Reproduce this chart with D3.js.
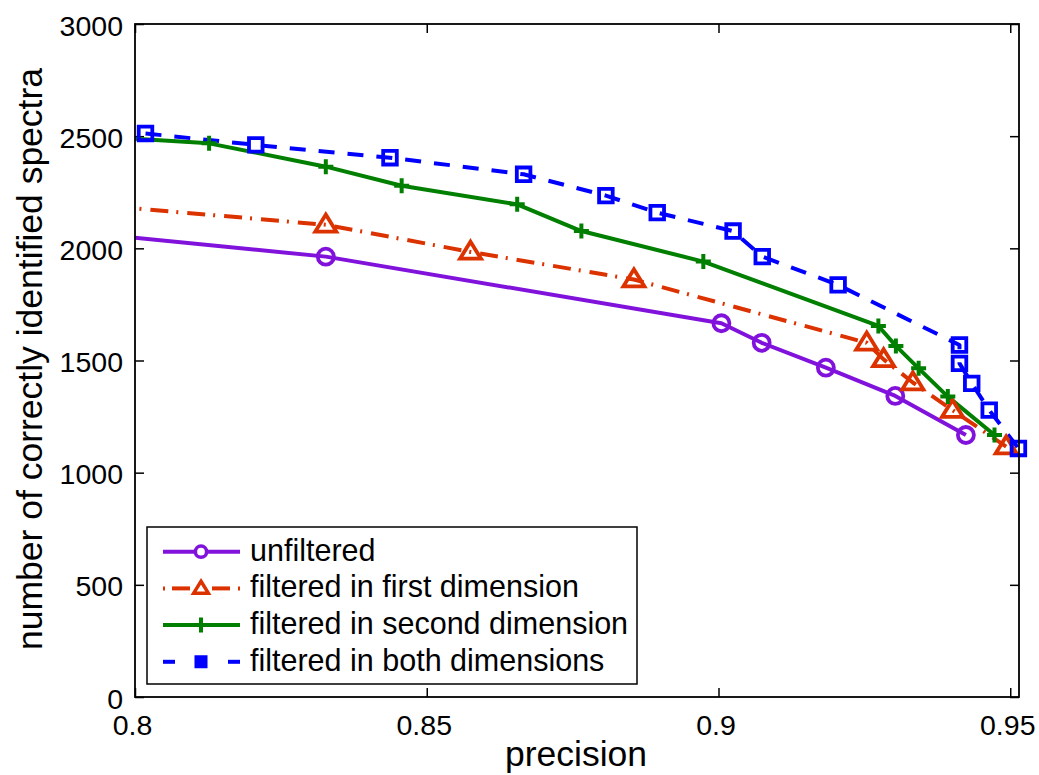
<!DOCTYPE html>
<html>
<head>
<meta charset="utf-8">
<script src="https://cdn.jsdelivr.net/npm/d3@7/dist/d3.min.js"></script>
<style>
  html, body { margin: 0; padding: 0; background: #fff; }
  svg { display: block; font-family: "Liberation Sans", Arial, Helvetica, sans-serif; }
</style>
</head>
<body>
<svg id="chart" width="1039" height="775"></svg>
<script>
// Precision (x) vs. number of correctly identified spectra (y) per filtering strategy.
// The first points of three series lie just left of 0.8; the axes clip them.
const precisionUnfiltered = [0.790, 0.8327, 0.9005, 0.9074, 0.9184, 0.9303, 0.9424];
const countUnfiltered     = [2073, 1963, 1666, 1579, 1468, 1342, 1168];

const precisionFirst = [0.790, 0.8327, 0.8575, 0.8855, 0.9254, 0.9283, 0.9333, 0.9401, 0.9493];
const countFirst     = [2200, 2105, 1984, 1861, 1579, 1505, 1402, 1279, 1116];

const precisionSecond = [0.790, 0.8127, 0.8327, 0.8457, 0.8655, 0.8765, 0.8974, 0.9274, 0.9304, 0.9343, 0.9393, 0.9473];
const countSecond     = [2504, 2468, 2364, 2279, 2196, 2077, 1941, 1654, 1565, 1465, 1339, 1168];

const precisionBoth = [0.8018, 0.8207, 0.8437, 0.8666, 0.8807, 0.8895, 0.9025, 0.9075, 0.9205, 0.9413, 0.9413, 0.9434, 0.9464, 0.9514];
const countBoth     = [2512, 2461, 2404, 2330, 2235, 2159, 2077, 1963, 1837, 1569, 1487, 1398, 1279, 1108];

const seriesNames = ["unfiltered", "filtered in first dimension", "filtered in second dimension", "filtered in both dimensions"];
const xTickValues = [0.8, 0.85, 0.9, 0.95];
const xTickLabels = ["0.8", "0.85", "0.9", "0.95"];
const yTickValues = [0, 500, 1000, 1500, 2000, 2500, 3000];
const xDomain = [0.8, 0.9515];
const yDomain = [0, 3000];
const xLabel = "precision";
const yLabel = "number of correctly identified spectra";

const series = [
  { name: seriesNames[0], xs: precisionUnfiltered, ys: countUnfiltered, color: "#8012dc", dash: null,        marker: "circle" },
  { name: seriesNames[1], xs: precisionFirst,      ys: countFirst,      color: "#dc3200", dash: "18,8,2,9",  marker: "triangle" },
  { name: seriesNames[2], xs: precisionSecond,     ys: countSecond,     color: "#007f00", dash: null,        marker: "plus" },
  { name: seriesNames[3], xs: precisionBoth,       ys: countBoth,       color: "#0000ff", dash: "16,13",     marker: "square" }
];

const plot = { left: 135, right: 1019, top: 24, bottom: 697 };
const svg = d3.select("#chart");

const x = d3.scaleLinear().domain(xDomain).range([plot.left, plot.right]);
const y = d3.scaleLinear().domain(yDomain).range([plot.bottom, plot.top]);

svg.append("defs").append("clipPath").attr("id", "plot-clip")
  .append("rect")
  .attr("x", plot.left).attr("y", plot.top)
  .attr("width", plot.right - plot.left).attr("height", plot.bottom - plot.top);

// Marker path generators, centred on (0,0)
function markerPath(kind, s) {
  switch (kind) {
    case "circle":
      return d3.symbol(d3.symbolCircle, Math.PI * (8 * s) * (8 * s))();
    case "triangle": {
      const w = 10.5 * s, h = 17 * s;
      return `M0,${-h * 0.6}L${w},${h * 0.4}L${-w},${h * 0.4}Z`;
    }
    case "plus": {
      const a = 7.5 * s;
      return `M${-a},0H${a}M0,${-a}V${a}`;
    }
    case "square": {
      const a = 6.8 * s;
      return `M${-a},${-a}H${a}V${a}H${-a}Z`;
    }
  }
}

// Axis ticks: inward ticks on all four sides
const tickLen = 9;
const axisFont = 28.5;

const gx = svg.append("g").attr("transform", `translate(0,${plot.bottom})`)
  .call(d3.axisBottom(x).tickValues(xTickValues).tickFormat((d, i) => xTickLabels[i]).tickSizeInner(-tickLen).tickSizeOuter(0));
gx.selectAll("text").attr("y", 38).attr("dy", 0).attr("dx", -3).attr("font-size", axisFont).attr("fill", "#000").attr("font-family", null);

const gxTop = svg.append("g").attr("transform", `translate(0,${plot.top})`)
  .call(d3.axisTop(x).tickValues(xTickValues).tickFormat("").tickSizeInner(-tickLen).tickSizeOuter(0));

const gy = svg.append("g").attr("transform", `translate(${plot.left},0)`)
  .call(d3.axisLeft(y).tickValues(yTickValues).tickFormat(d3.format("d")).tickSizeInner(-tickLen).tickSizeOuter(0));
gy.selectAll("text").attr("x", -12).attr("dy", 0).attr("y", 11).attr("font-size", axisFont).attr("fill", "#000").attr("font-family", null);

const gyRight = svg.append("g").attr("transform", `translate(${plot.right},0)`)
  .call(d3.axisRight(y).tickValues(yTickValues).tickFormat("").tickSizeInner(-tickLen).tickSizeOuter(0));

[gx, gxTop, gy, gyRight].forEach(g => {
  g.select(".domain").remove();
  g.selectAll(".tick line").attr("stroke", "#000").attr("stroke-width", 1.5);
});

// Series lines (clipped) and markers
const line = d3.line().x(d => x(d[0])).y(d => y(d[1]));
const linesG = svg.append("g").attr("clip-path", "url(#plot-clip)");
const markersG = svg.append("g");

series.forEach(s => {
  const pts = s.xs.map((v, i) => [v, s.ys[i]]);
  linesG.append("path")
    .datum(pts)
    .attr("d", line)
    .attr("fill", "none")
    .attr("stroke", s.color)
    .attr("stroke-width", 4)
    .attr("stroke-linejoin", "round")
    .attr("stroke-dasharray", s.dash);

  markersG.append("g").selectAll("path")
    .data(pts.filter(p => p[0] >= xDomain[0]))
    .join("path")
    .attr("transform", d => `translate(${x(d[0])},${y(d[1])})`)
    .attr("d", markerPath(s.marker, 1))
    .attr("fill", "none")
    .attr("stroke", s.color)
    .attr("stroke-width", s.marker === "plus" ? 4 : 3.8);
});

// Plot frame
svg.append("rect")
  .attr("x", plot.left).attr("y", plot.top)
  .attr("width", plot.right - plot.left).attr("height", plot.bottom - plot.top)
  .attr("fill", "none").attr("stroke", "#000").attr("stroke-width", 1.8);

// Axis labels
svg.append("text")
  .attr("x", 576).attr("y", 766)
  .attr("text-anchor", "middle")
  .attr("font-size", 35.5)
  .text(xLabel);

svg.append("text")
  .attr("transform", "translate(42,359) rotate(-90)")
  .attr("text-anchor", "middle")
  .attr("font-size", 35.5)
  .text(yLabel);

// Legend
const legend = svg.append("g");
legend.append("rect")
  .attr("x", 147).attr("y", 527).attr("width", 490).attr("height", 157)
  .attr("fill", "#fff").attr("stroke", "#000").attr("stroke-width", 1.5);

const rowY = [551.7, 588.4, 625.1, 661.8];
series.forEach((s, i) => {
  const cy = rowY[i];
  const row = legend.append("g");
  const sx0 = 163, sx1 = 240, mx = 201;
  if (s.dash === null) {
    row.append("line").attr("x1", sx0).attr("x2", sx1).attr("y1", cy).attr("y2", cy)
      .attr("stroke", s.color).attr("stroke-width", 4);
  } else if (s.marker === "triangle") {
    // dot – dash – [marker] – dash – dot
    [[sx0, sx0 + 2], [172, 190], [212, 230], [238, sx1]].forEach(seg => {
      row.append("line").attr("x1", seg[0]).attr("x2", seg[1]).attr("y1", cy).attr("y2", cy)
        .attr("stroke", s.color).attr("stroke-width", 4);
    });
  } else {
    [[sx0, 175], [228, sx1]].forEach(seg => {
      row.append("line").attr("x1", seg[0]).attr("x2", seg[1]).attr("y1", cy).attr("y2", cy)
        .attr("stroke", s.color).attr("stroke-width", 4);
    });
  }
  row.append("path")
    .attr("transform", `translate(${mx},${cy})`)
    .attr("d", markerPath(s.marker, s.marker === "plus" ? 1 : 0.7))
    .attr("fill", s.marker === "square" ? s.color : "#fff")
    .attr("stroke", s.color)
    .attr("stroke-width", s.marker === "plus" ? 4 : 3.5);
  row.append("text")
    .attr("x", 250).attr("y", cy + 9)
    .attr("font-size", 30.5)
    .text(s.name);
});
</script>
</body>
</html>
